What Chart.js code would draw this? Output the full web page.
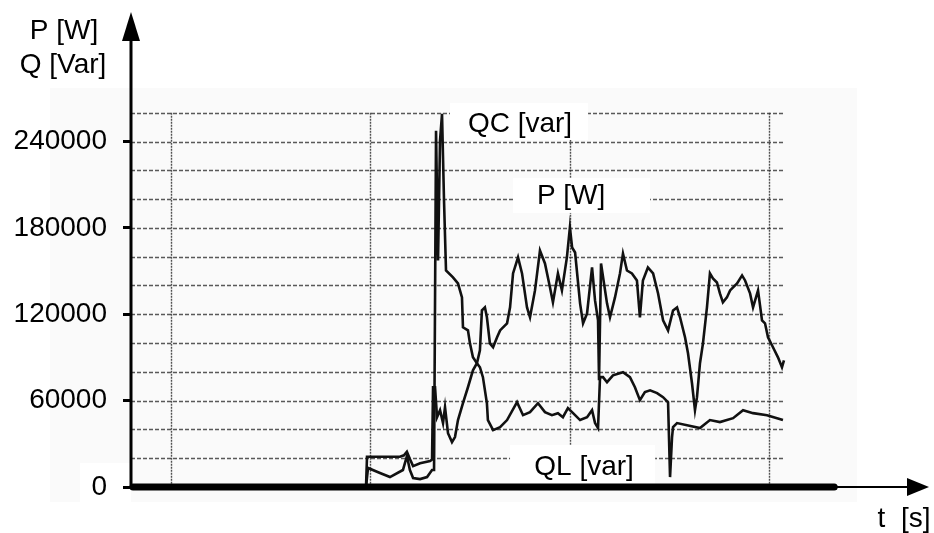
<!DOCTYPE html>
<html><head><meta charset="utf-8">
<script src="https://cdn.jsdelivr.net/npm/chart.js@4.4.1/dist/chart.umd.min.js"></script>
<style>html,body{margin:0;padding:0;background:#fff;}#wrap{width:934px;height:533px;position:relative;}</style>
</head><body><div id="wrap"><canvas id="c" width="934" height="533"></canvas></div>
<script>
// time axis (arbitrary seconds scale)
const timeP = [11.78, 11.83, 12.48, 13.48, 13.68, 13.83, 13.98, 14.14, 14.49, 14.99, 15.09,
  15.14, 15.24, 15.34, 15.49, 15.64, 15.74, 15.89, 16.09, 16.24, 16.39, 16.64, 16.89, 17.14, 17.34, 17.49,
  17.59, 17.74, 17.84, 17.99, 18.15, 18.35, 18.50, 18.65, 18.85, 19.00, 19.15, 19.40, 19.60, 19.85, 20.00,
  20.25, 20.50, 20.75, 21.00, 21.15, 21.40, 21.60, 21.85, 22.00, 22.11, 22.26, 22.51, 22.66, 22.86, 23.11,
  23.26, 23.41, 23.46, 23.56, 23.86, 24.01, 24.26, 24.51, 24.66, 24.86, 25.11, 25.36, 25.51, 25.66, 25.91,
  26.17, 26.42, 26.67, 26.92, 27.17, 27.37, 27.52, 27.77, 27.92, 28.12, 28.27, 28.37, 28.52, 28.67, 28.87,
  29.02, 29.17, 29.37, 29.52, 29.67, 29.87, 30.03, 30.18, 30.38, 30.63, 30.78, 31.03, 31.18, 31.43, 31.63,
  31.78, 31.93, 32.18, 32.43, 32.63, 32.73];
const powerP = [0, 21000, 21000, 21000, 22000, 24500, 19500, 14500, 16500, 18000, 19000,
  69300, 69300, 48500, 53400, 44400, 55500, 37400, 31200, 34700, 46500, 58200, 69300, 81100, 86000, 95000,
  122700, 124800, 117900, 99800, 97100, 104000, 108800, 110900, 113700, 124800, 148400, 159500, 148400, 124800, 117900,
  136600, 164300, 155300, 138700, 128300, 148400, 136600, 159500, 180300, 166400, 162900, 127600, 113700, 120600, 152500,
  129600, 115800, 74200, 155300, 127600, 117900, 131700, 148400, 162200, 150400, 148400, 143500, 117900, 143500, 152500,
  148400, 134500, 115800, 108800, 122700, 124800, 117900, 104000, 92900, 72100, 53400, 62400, 86000, 99800, 124800,
  148400, 144900, 142100, 134500, 128300, 131700, 136600, 138700, 141400, 147000, 143500, 134500, 124800, 136600, 115800,
  113700, 104000, 97100, 90100, 83200, 88000];
const timeQ = [11.78, 11.88, 12.48, 12.98, 13.63, 13.83, 13.98, 14.14, 14.49, 14.84, 15.09, 15.19,
  15.29, 15.39, 15.49, 15.59, 15.69, 15.79, 16.14, 16.39, 16.59, 16.64, 16.89, 16.99, 17.14, 17.34,
  17.49, 17.64, 17.84, 17.89, 18.15, 18.50, 18.85, 19.35, 19.65, 20.00, 20.40, 20.75, 21.10, 21.40,
  21.65, 21.90, 22.16, 22.51, 22.86, 23.11, 23.26, 23.41, 23.51, 23.66, 23.86, 24.16, 24.66, 25.01,
  25.26, 25.51, 25.76, 26.02, 26.37, 26.67, 26.92, 27.02, 27.12, 27.17, 27.37, 28.52, 29.02, 29.52,
  30.18, 30.68, 31.18, 31.88, 32.68];
const reactiveQ = [0, 13200, 9700, 6900, 11800, 21500, 11800, 6200, 5500, 6900, 11800, 11800,
  247500, 157400, 240600, 259300, 199000, 150400, 145600, 141400, 131700, 110900, 108800, 99800, 90100, 86000,
  83200, 76300, 58200, 46500, 39500, 41600, 46500, 58900, 49900, 52000, 58200, 52000, 49900, 51300,
  48500, 54800, 51300, 46500, 48500, 53400, 44400, 40900, 76300, 76300, 72800, 77600, 79700, 76300,
  69300, 60300, 65900, 67200, 65200, 62400, 58900, 6900, 34700, 41600, 44400, 40900, 46500, 45100,
  47800, 53400, 51300, 49900, 46500];
const yTickValues = [0, 60000, 120000, 180000, 240000];
const gridTimes = [2, 12, 22, 32];
const gridValues = [20000, 40000, 60000, 80000, 100000, 120000, 140000, 160000, 180000, 200000, 220000, 240000, 260000];
const yTitleLines = ['P [W]', 'Q [Var]'];
const xTitle = 't  [s]';
const curveNames = ['QC [var]', 'P [W]', 'QL [var]'];

const FONT = '"Liberation Sans", Arial, sans-serif';

const decor = {
  id: 'decor',
  beforeDraw(chart) {
    const ctx = chart.ctx;
    ctx.save();
    ctx.fillStyle = '#ffffff';
    ctx.fillRect(0, 0, chart.width, chart.height);
    ctx.fillStyle = '#fafafa';
    ctx.fillRect(50, 88, 807, 414);
    ctx.fillStyle = '#ffffff';
    ctx.fillRect(80, 463, 51, 39);
    ctx.restore();
  },
  beforeDatasetsDraw(chart) {
    const ctx = chart.ctx, xs = chart.scales.x, ys = chart.scales.y;
    const left = chart.chartArea.left;
    ctx.save();
    // horizontal dashed grid
    ctx.strokeStyle = 'rgba(60,60,60,0.85)';
    ctx.lineWidth = 1.4;
    ctx.setLineDash([4, 2]);
    const xEnd = xs.getPixelForValue(32.75);
    gridValues.forEach(v => {
      const y = Math.round(ys.getPixelForValue(v)) + 0.5;
      ctx.beginPath(); ctx.moveTo(left, y); ctx.lineTo(xEnd, y); ctx.stroke();
    });
    // vertical dotted grid
    ctx.setLineDash([2, 1]);
    ctx.strokeStyle = 'rgba(50,50,50,0.85)';
    const yTop = ys.getPixelForValue(260000), yBot = ys.getPixelForValue(0) + 3;
    gridTimes.forEach(t => {
      const x = Math.round(xs.getPixelForValue(t)) + 0.5;
      ctx.beginPath(); ctx.moveTo(x, yTop); ctx.lineTo(x, yBot); ctx.stroke();
    });
    ctx.setLineDash([]);
    // label boxes
    const boxes = [
      [15.99, 22.91, 266800, 241100, 19.50, 252900],
      [19.15, 26.02, 214700, 190400, 22.06, 202900],
      [19.00, 26.27, 29200, 0, 22.71, 14600]
    ];
    ctx.font = '28px ' + FONT;
    ctx.textAlign = 'center';
    ctx.textBaseline = 'middle';
    boxes.forEach((b, i) => {
      const x1 = xs.getPixelForValue(b[0]), x2 = xs.getPixelForValue(b[1]);
      const y1 = ys.getPixelForValue(b[2]), y2 = ys.getPixelForValue(b[3]);
      ctx.fillStyle = '#ffffff';
      ctx.fillRect(x1, y1, x2 - x1, y2 - y1);
      ctx.fillStyle = '#000000';
      ctx.fillText(curveNames[i], xs.getPixelForValue(b[4]), ys.getPixelForValue(b[5]) + 1);
    });
    ctx.restore();
  },
  afterDatasetsDraw(chart) {
    const ctx = chart.ctx, xs = chart.scales.x, ys = chart.scales.y;
    const x0 = chart.chartArea.left, y0 = ys.getPixelForValue(0);
    ctx.save();
    ctx.strokeStyle = '#000'; ctx.fillStyle = '#000';
    // y axis
    ctx.lineWidth = 3;
    ctx.beginPath(); ctx.moveTo(x0, y0 + 2); ctx.lineTo(x0, 40); ctx.stroke();
    ctx.beginPath(); ctx.moveTo(x0 - 9, 41); ctx.lineTo(x0, 12); ctx.lineTo(x0 + 9, 41); ctx.closePath(); ctx.fill();
    // x axis thick part
    const xThick = xs.getPixelForValue(35.25);
    ctx.lineWidth = 7; ctx.lineCap = 'round';
    ctx.beginPath(); ctx.moveTo(x0 + 2, y0); ctx.lineTo(xThick, y0); ctx.stroke();
    ctx.lineCap = 'butt';
    ctx.lineWidth = 2;
    ctx.beginPath(); ctx.moveTo(xThick, y0); ctx.lineTo(910, y0); ctx.stroke();
    ctx.beginPath(); ctx.moveTo(907, y0 - 9); ctx.lineTo(929, y0); ctx.lineTo(907, y0 + 9); ctx.closePath(); ctx.fill();
    // titles
    ctx.font = '28px ' + FONT;
    ctx.textAlign = 'center'; ctx.textBaseline = 'middle';
    ctx.fillText(yTitleLines[0], 64, 31);
    ctx.fillText(yTitleLines[1], 63, 65);
    ctx.fillText(xTitle, 904, 519);
    ctx.restore();
  }
};

new Chart(document.getElementById('c'), {
  type: 'line',
  data: {
    datasets: [
      { label: 'P [W]', data: timeP.map((t, i) => ({ x: t, y: powerP[i] })),
        borderColor: '#111', borderWidth: 2.6, pointRadius: 0, tension: 0, fill: false },
      { label: 'Q [var]', data: timeQ.map((t, i) => ({ x: t, y: reactiveQ[i] })),
        borderColor: '#111', borderWidth: 2.6, pointRadius: 0, tension: 0, fill: false }
    ]
  },
  options: {
    responsive: false,
    devicePixelRatio: 1,
    animation: false,
    layout: { padding: { left: 0, right: 5, top: 12, bottom: 46 } },
    plugins: { legend: { display: false }, tooltip: { enabled: false } },
    scales: {
      x: { type: 'linear', min: 0, max: 40, display: false },
      y: {
        type: 'linear', min: 0, max: 330000, position: 'left',
        afterBuildTicks: s => { s.ticks = yTickValues.map(v => ({ value: v })); },
        afterFit: s => { s.width = 131; s.paddingTop = 0; s.paddingBottom = 0; },
        ticks: { font: { family: FONT, size: 28 }, color: '#000', padding: 16, callback: v => String(v) },
        grid: { drawOnChartArea: false, drawTicks: true, tickLength: 8, tickWidth: 3, tickColor: '#000' },
        border: { display: false }
      }
    }
  },
  plugins: [decor]
});
</script></body></html>
